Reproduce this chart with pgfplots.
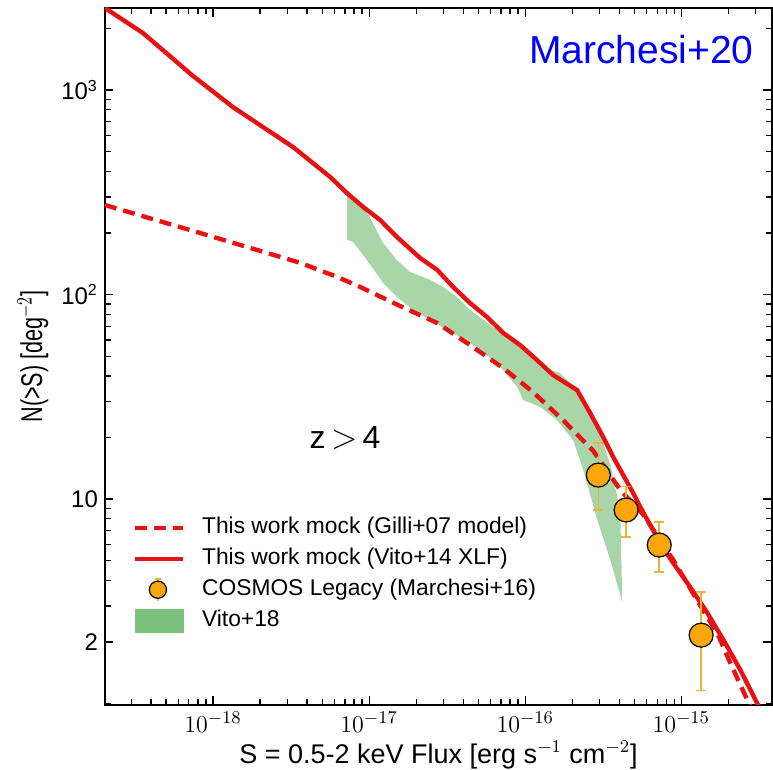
\documentclass[border=0pt]{standalone}
\usepackage{fontspec}
\setmainfont{Liberation Sans}
\usepackage{pgfplots}
\usepackage{pgfplotstable}
\pgfplotsset{compat=1.18}

\definecolor{mockred}{RGB}{232,18,18}
\definecolor{ptorange}{RGB}{250,165,10}
\definecolor{errcol}{RGB}{240,178,50}
\definecolor{bandgreen}{RGB}{168,214,168}
\definecolor{leggreen}{RGB}{122,192,122}

% Vito+14 XLF mock (solid)
\pgfplotstableread{
x y
2.03e-19 2518
3.56e-19 1900
7.32e-19 1184
1.34e-18 826
3.26e-18 526
5.62e-18 376
7.23e-18 313
9.16e-18 268
1.18e-17 231
1.51e-17 191
2.12e-17 151
2.73e-17 132
3.45e-17 109
4.44e-17 90.8
5.70e-17 77.6
7.23e-17 64.9
9.29e-17 56.6
1.19e-16 47.8
1.51e-16 40.4
2.15e-16 34.1
2.61e-16 26.3
3.16e-16 20.1
3.67e-16 16.0
4.92e-16 10.7
5.46e-16 9.14
7.33e-16 6.09
8.89e-16 4.86
1.14e-15 3.71
1.47e-15 2.77
1.86e-15 2.05
2.39e-15 1.46
3.07e-15 1.00
3.20e-15 0.95
}\solidmock

% Gilli+07 model mock (dashed)
\pgfplotstableread{
x y
2.03e-19 274
8.26e-19 200
3.61e-18 143
6.24e-18 122
8.75e-18 109
1.53e-17 88.9
2.73e-17 72.6
4.44e-17 56.6
7.23e-17 43.7
1.12e-16 33.4
1.75e-16 24.3
2.73e-16 17.2
4.06e-16 11.1
5.70e-16 8.4
8.89e-16 5.03
1.38e-15 2.86
1.70e-15 2.21
2.06e-15 1.58
2.65e-15 1.04
2.80e-15 0.95
}\dashedmock

% Vito+18 band: upper edge, then lower edge back
\pgfplotstableread{
x y
7.23e-18 317
9.16e-18 268
1.01e-17 239
1.23e-17 179
1.51e-17 147
1.83e-17 129
2.46e-17 118
2.98e-17 109
3.66e-17 97.2
4.44e-17 84.0
6.62e-17 67.0
9.29e-17 55.4
1.30e-16 44.2
1.67e-16 41.3
1.94e-16 36.9
2.35e-16 30.5
2.90e-16 23.0
3.51e-16 14.7
4.06e-16 8.84
4.19e-16 3.13
3.51e-16 5.03
2.90e-16 7.89
2.35e-16 13.9
2.03e-16 19.4
1.60e-16 24.3
1.25e-16 28.2
9.70e-17 30.5
8.89e-17 35.3
6.62e-17 46.2
4.44e-17 57.9
3.16e-17 67.0
2.46e-17 75.0
1.91e-17 84.0
1.51e-17 97.2
1.23e-17 114
9.70e-18 147
7.88e-18 181
7.23e-18 185
}\vitoband

% COSMOS Legacy points
\pgfplotstableread{
x y ep em
2.94e-16 13.1 5.7 4.26
4.43e-16 8.84 2.66 2.32
7.22e-16 5.96 1.76 1.56
1.34e-15 2.16 1.35 1.00
}\cosmos

\begin{document}
\begin{tikzpicture}
\begin{axis}[
    at={(0,0)}, anchor=south west,
    scale only axis,
    width=333.5pt, height=348.5pt,
    xmode=log, ymode=log,
    xmin=2.03e-19, xmax=3.81e-15,
    ymin=0.984, ymax=2520,
    ytick={2,10,100,1000},
    yticklabels={2,10,10\textsuperscript{2},10\textsuperscript{3}},
    minor ytick={1,3,4,5,6,7,8,9,20,30,40,50,60,70,80,90,200,300,400,500,600,700,800,900,2000},
    axis line style={line width=0.8pt},
    tick style={black, line width=0.6pt},
    xticklabel style={font=\fontsize{13}{15}\selectfont},
    yticklabel style={font=\fontsize{12}{14}\selectfont},
    xlabel={S = 0.5-2 keV Flux [erg s$^{-1}$ cm$^{-2}$]},
    ylabel={\fontsize{15}{17}\selectfont\scalebox{0.72}[1]{N(>S) [deg$^{-2}$]}},
    label style={font=\fontsize{13.5}{16}\selectfont},
    xlabel style={at={(axis description cs:0.5,0)}, anchor=center, yshift=-25pt},
    ylabel style={at={(axis description cs:-0.108,0.5)}, anchor=center},
    legend style={draw=none, fill=none, at={(axis description cs:0.032,0.28)},
        anchor=north west, font=\fontsize{11.4}{13}\selectfont,
        row sep=2pt, column sep=7pt,
        nodes={inner sep=1.5pt, text height=8pt, text depth=2.5pt}},
    legend cell align=left,
]
\addlegendimage{legend image code/.code={\draw[mockred, line width=2.2pt, dash pattern=on 6pt off 3.5pt] (0pt,0pt) -- (24pt,0pt);}}
\addlegendentry{This work mock (Gilli+07 model)}
\addlegendimage{legend image code/.code={\draw[mockred, line width=2.2pt] (0pt,0pt) -- (24pt,0pt);}}
\addlegendentry{This work mock (Vito+14 XLF)}
\addlegendimage{legend image code/.code={
    \path[draw=none, fill=none] (0pt,0pt) rectangle (24pt,0.1pt);
    \draw[overlay, errcol, line width=0.8pt] (11.5pt,-5.5pt) -- (11.5pt,5.5pt);
    \draw[overlay, errcol, line width=0.8pt] (10pt,5.5pt) -- (13pt,5.5pt);
    \filldraw[overlay, fill=ptorange, draw=black, line width=0.6pt] (11.5pt,0pt) circle (4.3pt);}}
\addlegendentry{COSMOS Legacy (Marchesi+16)}
\addlegendimage{legend image code/.code={\fill[leggreen] (0pt,-5.75pt) rectangle (24pt,5.75pt);}}
\addlegendentry{Vito+18}

\addplot[fill=bandgreen, draw=none, forget plot] table[x=x, y=y] {\vitoband};
\addplot[mockred, line width=2.2pt, dash pattern=on 6pt off 3.5pt, forget plot] table[x=x, y=y] {\dashedmock};
\addplot[mockred, line width=2.2pt, forget plot] table[x=x, y=y] {\solidmock};
\addplot[forget plot, only marks, mark=*, mark size=6pt,
    mark options={fill=ptorange, draw=black, line width=0.6pt},
    error bars/.cd, y dir=both, y explicit,
    error bar style={errcol, line width=0.8pt},
    error mark options={rotate=90, errcol, mark size=2.5pt, line width=0.8pt}]
    table[x=x, y=y, y error plus=ep, y error minus=em] {\cosmos};

\node[font=\fontsize{16}{18}\selectfont] at (rel axis cs:0.36,0.383) {z\,$>$\,4};
\node[text=blue, font=\fontsize{19.5}{22}\selectfont] at (rel axis cs:0.804,0.94) {Marchesi+20};
\end{axis}
\pgfresetboundingbox
\path (-52.5pt,-32.5pt) rectangle (334pt,352.5pt);
\end{tikzpicture}
\end{document}
